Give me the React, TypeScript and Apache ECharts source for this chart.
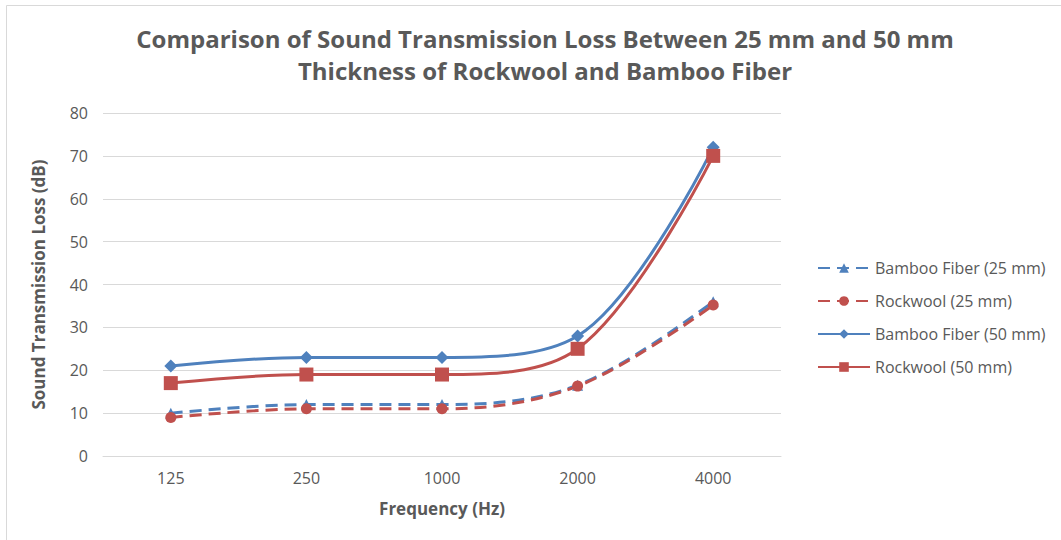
import React, { useEffect, useRef } from "react";
import * as echarts from "echarts";

const categories = ["125", "250", "1000", "2000", "4000"];
const bamboo25 = [10, 12, 12, 16.5, 36];
const rockwool25 = [9, 11, 11, 16.3, 35.2];
const bamboo50 = [21, 23, 23, 28, 72];
const rockwool50 = [17, 19, 19, 25, 70];

const BLUE = "#4F81BD";
const RED = "#C0504D";
const GRAY = "#595959";
const FONT = "'Open Sans', 'Noto Sans', sans-serif";

export default function App() {
  const ref = useRef<HTMLDivElement>(null);
  useEffect(() => {
    const chart = echarts.init(ref.current!, null, { renderer: "svg" });
    const mk = (name: string, data: number[], color: string, dashed: boolean, symbol: string, size: number) => ({
      name,
      type: "line",
      data,
      smooth: 0.35,
      symbol,
      symbolSize: size,
      showSymbol: true,
      itemStyle: { color },
      lineStyle: { color, width: 3, type: dashed ? [12, 7] : "solid" },
    });
    chart.setOption({
      animation: false,
      backgroundColor: "#fff",
      title: {
        text: "Comparison of Sound Transmission Loss Between 25 mm and 50 mm\nThickness of Rockwool and Bamboo Fiber",
        left: 540,
        textAlign: "center",
        top: 17,
        textStyle: { fontFamily: FONT, fontSize: 24, fontWeight: "bold", color: GRAY, lineHeight: 32 },
      },
      graphic: [
        { type: "rect", shape: { x: 6.5, y: 5.5, width: 1060, height: 540 }, style: { fill: "none", stroke: "#d9d9d9", lineWidth: 1 } },
      ],
      legend: {
        orient: "vertical",
        left: 812,
        top: 255,
        itemGap: 17,
        itemWidth: 52,
        itemHeight: 12,
        textStyle: { fontFamily: FONT, fontSize: 16, color: GRAY },
        data: ["Bamboo Fiber (25 mm)", "Rockwool (25 mm)", "Bamboo Fiber (50 mm)", "Rockwool (50 mm)"],
      },
      grid: { left: 103, right: 280, top: 113, bottom: 84 },
      xAxis: {
        type: "category",
        data: categories,
        boundaryGap: true,
        name: "Frequency (Hz)",
        nameLocation: "middle",
        nameGap: 44,
        nameTextStyle: { fontFamily: FONT, fontSize: 17, fontWeight: "bold", color: GRAY },
        axisLine: { lineStyle: { color: "#d9d9d9", width: 1 } },
        axisTick: { show: false },
        axisLabel: { fontFamily: FONT, fontSize: 16, color: GRAY, margin: 14 },
      },
      yAxis: {
        type: "value",
        min: 0,
        max: 80,
        interval: 10,
        name: "Sound Transmission Loss (dB)",
        nameLocation: "middle",
        nameGap: 56,
        nameTextStyle: { fontFamily: FONT, fontSize: 17, fontWeight: "bold", color: GRAY },
        axisLine: { show: false },
        axisTick: { show: false },
        axisLabel: { fontFamily: FONT, fontSize: 16, color: GRAY, margin: 15 },
        splitLine: { lineStyle: { color: "#d9d9d9", width: 1 } },
      },
      series: [
        mk("Bamboo Fiber (25 mm)", bamboo25, BLUE, true, "triangle", 11),
        mk("Rockwool (25 mm)", rockwool25, RED, true, "circle", 11),
        mk("Bamboo Fiber (50 mm)", bamboo50, BLUE, false, "diamond", 13),
        mk("Rockwool (50 mm)", rockwool50, RED, false, "rect", 14),
      ],
    });
    return () => chart.dispose();
  }, []);
  return <div ref={ref} style={{ position: "fixed", left: 0, top: 0, width: 1061, height: 540 }} />;
}
